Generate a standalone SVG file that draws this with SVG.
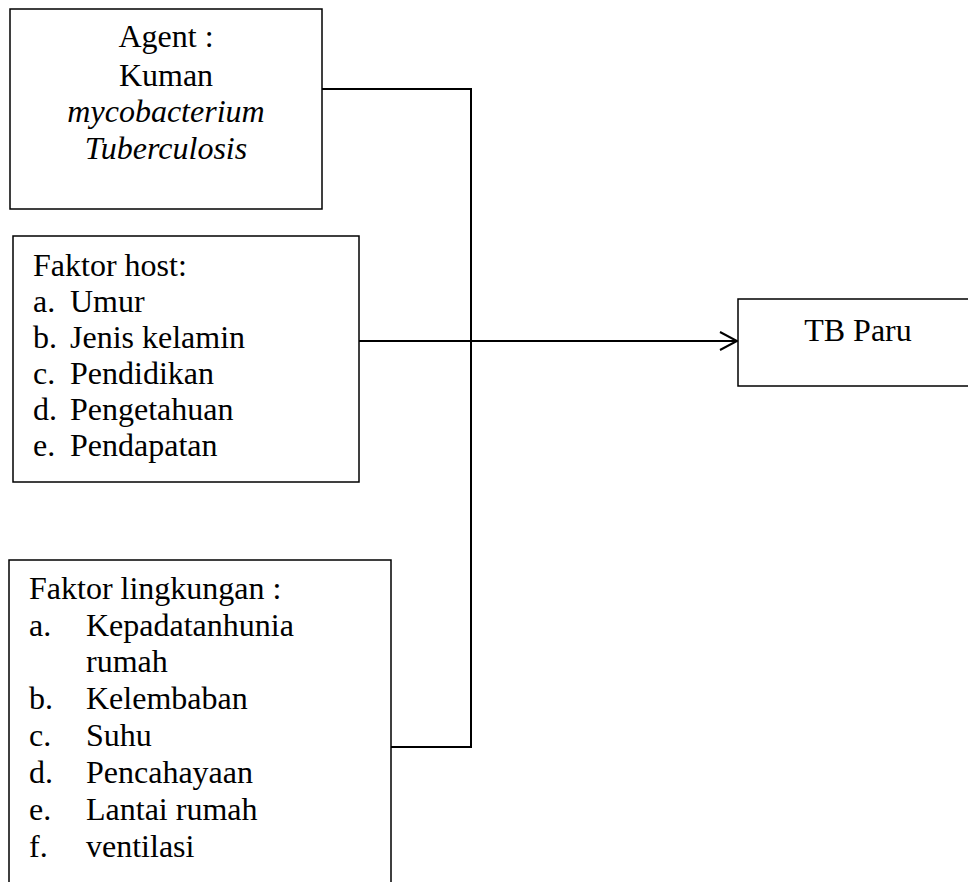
<svg xmlns="http://www.w3.org/2000/svg" width="968" height="882" viewBox="0 0 968 882">
<style>
.box{fill:#fff;stroke:#000;stroke-width:1.5}
.t{font-family:"Liberation Serif","Times New Roman",serif;font-size:32px;fill:#000}
.c{text-anchor:middle}
.i{font-style:italic}
.ln{fill:none;stroke:#000;stroke-width:2}
</style>
<defs>
<marker id="arr" markerUnits="userSpaceOnUse" markerWidth="22" markerHeight="22" refX="18" refY="10" orient="auto">
<path d="M1,1 L18,10 L1,19" fill="none" stroke="#000" stroke-width="2"/>
</marker>
</defs>
<g id="connectors">
<polyline class="ln" points="322,89 471,89 471,747 391,747"/>
<line class="ln" x1="359" y1="341" x2="737" y2="341" marker-end="url(#arr)"/>
</g>
<g id="agent">
<rect class="box" x="10" y="9" width="312" height="200"/>
<text class="t c" x="166" y="47">Agent :</text>
<text class="t c" x="166" y="86">Kuman</text>
<text class="t c i" x="166" y="122">mycobacterium</text>
<text class="t c i" x="166" y="159">Tuberculosis</text>
</g>
<g id="host">
<rect class="box" x="13" y="236" width="346" height="246"/>
<text class="t" x="33" y="276">Faktor host:</text>
<text class="t" x="33" y="312">a.</text><text class="t" x="70" y="312">Umur</text>
<text class="t" x="33" y="348">b.</text><text class="t" x="70" y="348">Jenis kelamin</text>
<text class="t" x="33" y="384">c.</text><text class="t" x="70" y="384">Pendidikan</text>
<text class="t" x="33" y="420">d.</text><text class="t" x="70" y="420">Pengetahuan</text>
<text class="t" x="33" y="456">e.</text><text class="t" x="70" y="456">Pendapatan</text>
</g>
<g id="lingkungan">
<path class="box" d="M9,884 L9,560 L391,560 L391,884"/>
<text class="t" x="29" y="599">Faktor lingkungan :</text>
<text class="t" x="29" y="636">a.</text><text class="t" x="86" y="636">Kepadatanhunia</text>
<text class="t" x="86" y="672">rumah</text>
<text class="t" x="29" y="709">b.</text><text class="t" x="86" y="709">Kelembaban</text>
<text class="t" x="29" y="746">c.</text><text class="t" x="86" y="746">Suhu</text>
<text class="t" x="29" y="783">d.</text><text class="t" x="86" y="783">Pencahayaan</text>
<text class="t" x="29" y="820">e.</text><text class="t" x="86" y="820">Lantai rumah</text>
<text class="t" x="29" y="857">f.</text><text class="t" x="86" y="857">ventilasi</text>
</g>
<g id="tbparu">
<rect class="box" x="738" y="299" width="240" height="87"/>
<text class="t c" x="858" y="341">TB Paru</text>
</g>
</svg>
